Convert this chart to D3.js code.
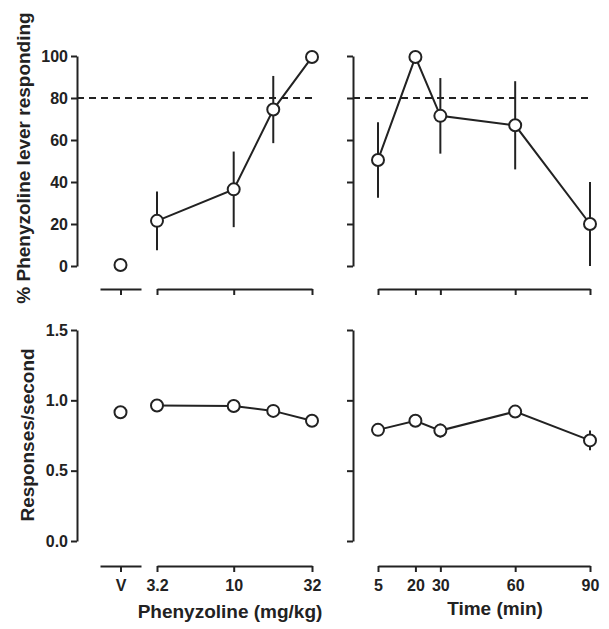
<!DOCTYPE html>
<html><head><meta charset="utf-8">
<script src="https://cdn.jsdelivr.net/npm/d3@7"></script>
<style>
html,body{margin:0;padding:0;background:#fff;}
svg text{font-family:"Liberation Sans",Arial,sans-serif;font-weight:bold;fill:#222;}
</style></head>
<body>
<svg id="chart" width="609" height="629"></svg>
<script>
// ---- data ----
const doses = [3.2, 10, 18, 32];
const doseTickValues = [3.2, 10, 32];
const doseTickLabels = ["3.2", "10", "32"];
const vehicleLabel = "V";
const timeMin = [5, 20, 30, 60, 90];
const timeTickLabels = ["5", "20", "30", "60", "90"];

const vehiclePct = 0.5, vehiclePctErr = 0;
const dosePct = [21.5, 36.5, 74.5, 99.5];
const dosePctErr = [14, 18, 16, 0];
const timePct = [50.5, 99.5, 71.5, 67, 20];
const timePctErr = [18, 0, 18, 21, 20];

const vehicleRate = 0.915, vehicleRateErr = 0.04;
const doseRate = [0.963, 0.96, 0.925, 0.855];
const doseRateErr = [0.04, 0.045, 0.015, 0.01];
const timeRate = [0.79, 0.855, 0.785, 0.92, 0.715];
const timeRateErr = [0.04, 0.02, 0.05, 0.01, 0.07];

const pctTicks = [0, 20, 40, 60, 80, 100];
const rateTicks = [0, 0.5, 1.0, 1.5];
const criterion = 80;

const yLabelTop = "% Phenyzoline lever responding";
const yLabelBottom = "Responses/second";
const xLabelLeft = "Phenyzoline (mg/kg)";
const xLabelRight = "Time (min)";

// ---- layout ----
const svg = d3.select("#chart");
const SW = 2;
const INK = "#222";
const leftAxisX = 77, rightAxisX = 353;
const topY = d3.scaleLinear().domain([0, 100]).range([266, 56]);
const botY = d3.scaleLinear().domain([0, 1.5]).range([541, 330]);
const topXAxisY = 289, botXAxisY = 566;
const xDose = d3.scaleLog().domain([3.2, 32]).range([157, 312]);
// vehicle gets its own short axis segment; position 0.5 in [0,1]
const xVehLin = d3.scaleLinear().domain([0, 1]).range([100, 141]);
const xVeh = () => xVehLin(0.5);
const xTime = d3.scaleLinear().domain([5, 90]).range([378, 590]);

// criterion dashed lines
[[leftAxisX, xDose(32)], [rightAxisX, xTime(90)]].forEach(([a, b]) => {
  svg.append("line").attr("x1", a).attr("x2", b + 1).attr("y1", topY(criterion)).attr("y2", topY(criterion))
    .attr("stroke", INK).attr("stroke-width", SW).attr("stroke-dasharray", "7,5");
});

// series drawing
function series(xs, ys, errs, xScale, yScale, connect) {
  const pts = xs.map((x, i) => ({ x: xScale(x), y: yScale(ys[i]), lo: yScale(ys[i] - errs[i]), hi: yScale(ys[i] + errs[i]) }));
  const g = svg.append("g");
  g.selectAll("line.err").data(pts).join("line").attr("class", "err")
    .attr("x1", d => d.x).attr("x2", d => d.x).attr("y1", d => d.lo).attr("y2", d => d.hi)
    .attr("stroke", INK).attr("stroke-width", SW);
  if (connect) {
    g.append("path").attr("d", d3.line().x(d => d.x).y(d => d.y)(pts))
      .attr("fill", "none").attr("stroke", INK).attr("stroke-width", SW);
  }
  g.selectAll("circle").data(pts).join("circle")
    .attr("cx", d => d.x).attr("cy", d => d.y).attr("r", 6)
    .attr("fill", "#fff").attr("stroke", INK).attr("stroke-width", SW);
}
series([vehicleLabel], [vehiclePct], [vehiclePctErr], xVeh, topY, false);
series(doses, dosePct, dosePctErr, xDose, topY, true);
series(timeMin, timePct, timePctErr, xTime, topY, true);
series([vehicleLabel], [vehicleRate], [vehicleRateErr], xVeh, botY, false);
series(doses, doseRate, doseRateErr, xDose, botY, true);
series(timeMin, timeRate, timeRateErr, xTime, botY, true);

function styleAxis(g, showLabels) {
  g.selectAll("path.domain").attr("stroke", INK).attr("stroke-width", SW);
  g.selectAll(".tick line").attr("stroke", INK).attr("stroke-width", SW);
  g.selectAll(".tick text").attr("font-size", 16)
    .style("font-family", "Liberation Sans, Arial, sans-serif").style("font-weight", "bold").attr("fill", INK);
  if (!showLabels) g.selectAll(".tick text").remove();
}

// y axes
function yAxis(x, scale, ticks, fmt, labels) {
  const g = svg.append("g").attr("transform", `translate(${x},0)`)
    .call(d3.axisLeft(scale).tickValues(ticks).tickFormat(fmt).tickSize(6).tickSizeOuter(0).tickPadding(3));
  styleAxis(g, labels);
}
yAxis(leftAxisX, topY, pctTicks, d3.format("d"), true);
yAxis(rightAxisX, topY, pctTicks, d3.format("d"), false);
yAxis(leftAxisX, botY, rateTicks, d3.format(".1f"), true);
yAxis(rightAxisX, botY, rateTicks, d3.format(".1f"), false);

// x axes
function xAxes(y, labels) {
  const gd = svg.append("g").attr("transform", `translate(0,${y})`)
    .call(d3.axisBottom(xDose).tickValues(doseTickValues).tickFormat((d, i) => doseTickLabels[i]).tickSize(6).tickSizeOuter(0).tickPadding(8));
  styleAxis(gd, labels);
  const gt = svg.append("g").attr("transform", `translate(0,${y})`)
    .call(d3.axisBottom(xTime).tickValues(timeMin).tickFormat((d, i) => timeTickLabels[i]).tickSize(6).tickSizeOuter(0).tickPadding(8));
  styleAxis(gt, labels);
  const gv = svg.append("g").attr("transform", `translate(0,${y})`)
    .call(d3.axisBottom(xVehLin).tickValues([0.5]).tickFormat(() => vehicleLabel).tickSize(6).tickSizeOuter(0).tickPadding(8));
  styleAxis(gv, labels);
  // reinforce the vehicle tick mark (same position as the axis tick)
  gv.append("line").attr("x1", xVeh() + 0.5).attr("x2", xVeh() + 0.5).attr("y1", 0).attr("y2", 6)
    .attr("stroke", INK).attr("stroke-width", SW);
}
xAxes(topXAxisY, false);
xAxes(botXAxisY, true);

// axis titles
svg.append("text").attr("transform", `translate(23,158) rotate(-90)`)
  .attr("text-anchor", "middle").attr("dy", "0.35em").attr("font-size", 19).text(yLabelTop);
svg.append("text").attr("transform", `translate(27,435) rotate(-90)`)
  .attr("text-anchor", "middle").attr("dy", "0.35em").attr("font-size", 19).text(yLabelBottom);
svg.append("text").attr("x", 230).attr("y", 611).attr("dy", "0.35em").attr("text-anchor", "middle")
  .attr("font-size", 19).text(xLabelLeft);
svg.append("text").attr("x", 495).attr("y", 608).attr("dy", "0.35em").attr("text-anchor", "middle")
  .attr("font-size", 19).text(xLabelRight);
</script>
</body></html>
